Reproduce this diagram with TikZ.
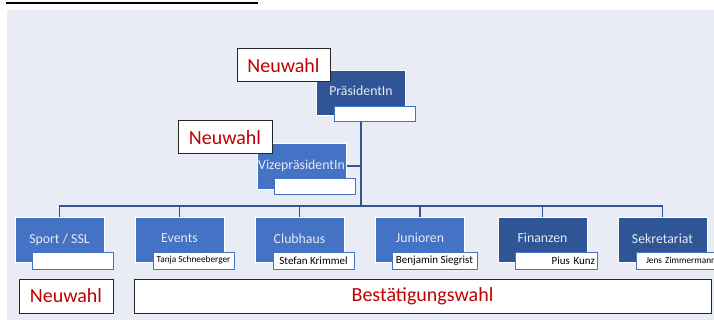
\documentclass[tikz,border=0pt]{standalone}
\usepackage{fontspec}
\setmainfont{Carlito}
\definecolor{bgc}{HTML}{E9EBF5}
\definecolor{midb}{HTML}{4472C4}
\definecolor{darkb}{HTML}{2F5597}
\definecolor{labc}{HTML}{E6EAF2}
\definecolor{redc}{HTML}{C00000}
\pgfdeclarelayer{bglayer}
\pgfsetlayers{bglayer,main}
\tikzset{
  unitbox/.style={draw=white, line width=0.8pt, minimum width=89pt, minimum height=45pt, inner sep=0pt, text=labc, font=\fontsize{13.8}{16}\selectfont},
  midbox/.style={unitbox, fill=midb},
  darkbox/.style={unitbox, fill=darkb},
  namebox/.style={draw=midb, fill=white, line width=1pt, minimum width=81pt, minimum height=16pt, inner sep=0pt, text=black},
  bigname/.style={namebox, font=\fontsize{11}{13}\selectfont},
  smallname/.style={namebox, font=\fontsize{9.3}{11}\selectfont},
  vote/.style={draw=black!85, fill=white, line width=1pt, minimum height=34pt, inner sep=0pt, text=redc, font=\fontsize{20}{24}\selectfont},
  conn/.style={draw=darkb, line width=1.2pt}
}
\begin{document}
\begin{tikzpicture}[x=1pt,y=-1pt]
\useasboundingbox (0,0) rectangle (714,320);
% units
\node[darkbox] (pres) at (361,92.5) {\raisebox{3pt}{PräsidentIn}};
\node[namebox, minimum height=15pt] (presn) at (374.5,114.5) {};
\node[midbox, minimum height=46pt] (vice) at (301.5,166) {\raisebox{3pt}{VizepräsidentIn}};
\node[namebox] (vicen) at (314.5,187) {};
\node[midbox] (sport) at (59.5,239.5) {\raisebox{2.5pt}{Sport / SSL}};
\node[namebox, minimum height=17pt] (sportn) at (72.5,260.5) {};
\node[midbox] (events) at (179.5,239.5) {\raisebox{2.5pt}{Events}};
\node[smallname, minimum height=17pt] (eventsn) at (193.5,260.5) {Tanja Schneeberger};
\node[midbox] (club) at (299.5,239.5) {\raisebox{2.5pt}{Clubhaus}};
\node[bigname, minimum height=17pt] (clubn) at (313.5,260.5) {Stefan Krimmel};
\node[midbox] (jun) at (420,239.5) {\raisebox{2.5pt}{Junioren}};
\node[bigname, minimum height=17pt, minimum width=85pt] (junn) at (434.5,260.5) {Benjamin Siegrist};
\node[darkbox] (fin) at (542.5,239.5) {\raisebox{2.5pt}{Finanzen}};
\node[bigname, minimum height=17pt, minimum width=82pt, text width=78pt, align=right] (finn) at (556,260.5) {Pius Kunz};
\node[darkbox] (sek) at (662.5,239.5) {\raisebox{2.5pt}{Sekretariat}};
\node[smallname, minimum height=17pt, minimum width=86pt, text width=66pt, align=left] (sekn) at (679,260.5) {\mbox{Jens Zimmermann}};
% vote labels
\node[vote, minimum width=93pt, minimum height=33pt] (nw1) at (283.5,65.5) {Neuwahl};
\node[vote, minimum width=94pt, minimum height=33pt] (nw2) at (225,137.5) {Neuwahl};
\node[vote, minimum width=94pt] (nw3) at (66,296) {Neuwahl};
\node[vote, minimum width=577pt] (bw) at (422.5,296) {Bestätigungswahl};
% background and connectors
\begin{pgfonlayer}{bglayer}
\fill[bgc] (7,10) rectangle (714,320);
\draw[black, line width=2pt] (6,3.5) -- (258,3.5);
\coordinate (bar) at (0,206);
\draw[conn] (pres.south) -- (pres.south |- bar);
\draw[conn] (vice.east) -- (vice.east -| pres.south);
\draw[conn] (sport.north) -- (sport.north |- bar) -| (sek.north);
\draw[conn] (events.north) -- (events.north |- bar);
\draw[conn] (club.north) -- (club.north |- bar);
\draw[conn] (jun.north) -- (jun.north |- bar);
\draw[conn] (fin.north) -- (fin.north |- bar);
\end{pgfonlayer}
\end{tikzpicture}
\end{document}
